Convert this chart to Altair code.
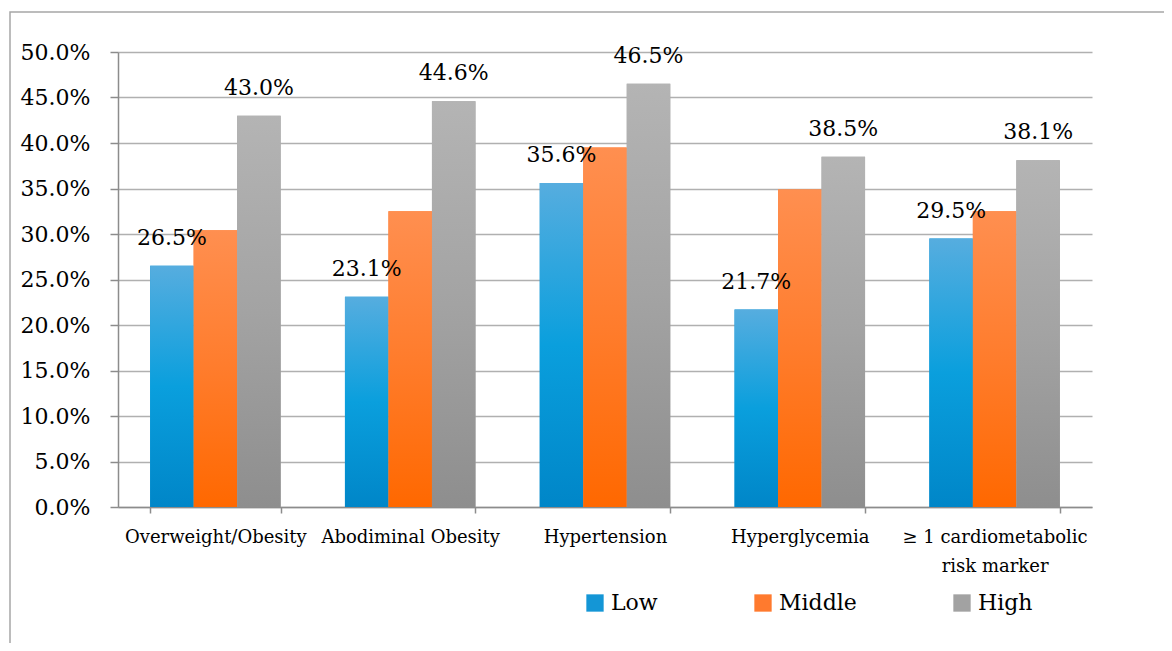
import altair as alt
import pandas as pd

categories = ["Overweight/Obesity", "Abodiminal Obesity", "Hypertension",
              "Hyperglycemia", "≥ 1 cardiometabolic|risk marker"]
series = ["Low", "Middle", "High"]
low = [26.5, 23.1, 35.6, 21.7, 29.5]
middle = [30.4, 32.5, 39.5, 34.9, 32.5]
high = [43.0, 44.6, 46.5, 38.5, 38.1]
y_ticks = [0, 5, 10, 15, 20, 25, 30, 35, 40, 45, 50]

rows = []
for s, vals in zip(series, [low, middle, high]):
    for c, v in zip(categories, vals):
        rows.append({"category": c, "series": s, "pct": v})
df = pd.DataFrame(rows)

FONT = "DejaVu Serif"
GRID = "#b0b0b0"
AX = "#8c8c8c"


def grad(stops):
    return alt.LinearGradient(
        gradient="linear",
        stops=[alt.GradientStop(color=c, offset=o) for o, c in stops],
        x1=0, x2=0, y1=0, y2=1,
    )


fills = {
    "Low": grad([(0, "#56addf"), (0.5, "#0a9fdd"), (1, "#0086c8")]),
    "Middle": grad([(0, "#ff8f50"), (0.5, "#ff7c2c"), (1, "#ff6800")]),
    "High": grad([(0, "#b4b4b4"), (0.5, "#a3a3a3"), (1, "#8e8e8e")]),
}

x = alt.X(
    "category:N", sort=categories, title=None,
    scale=alt.Scale(paddingInner=0.33, paddingOuter=0.165),
    axis=alt.Axis(labelAngle=0, labelExpr="split(datum.label, '|')",
                  tickBand="extent", labelFont=FONT, labelFontSize=18,
                  labelColor="#000000", labelLimit=400, labelPadding=15,
                  labelLineHeight=29, labelOverlap=False,
                  domainColor=AX, domainWidth=1.5, tickColor=AX,
                  tickWidth=1.5, tickSize=6, grid=False),
)
y = alt.Y(
    "pct:Q", title=None, scale=alt.Scale(domain=[0, 50], nice=False),
    axis=alt.Axis(values=y_ticks, labelExpr="format(datum.value, '.1f') + '%'",
                  labelFont=FONT, labelFontSize=22, labelColor="#000000",
                  labelPadding=20, domainColor=AX, domainWidth=1.5,
                  tickColor=AX, tickWidth=1.5, tickSize=8,
                  gridColor=GRID, gridWidth=1.5),
)
xo = alt.XOffset("series:N", sort=series,
                 scale=alt.Scale(domain=series, paddingInner=0, paddingOuter=0))

base = alt.Chart(df).encode(x=x, y=y, xOffset=xo)

legend_bars = base.mark_bar().encode(
    color=alt.Color(
        "series:N", sort=series, title=None,
        scale=alt.Scale(domain=series, range=["#1496d6", "#ff7a2e", "#a2a2a2"]),
        legend=alt.Legend(orient="none", legendX=466, legendY=540,
                          direction="horizontal", symbolType="square",
                          symbolSize=300, symbolStrokeWidth=0,
                          labelFont=FONT, labelFontSize=22,
                          labelColor="#000000", labelOffset=5,
                          columnPadding=94),
    )
)

grad_layers = [
    base.transform_filter(alt.datum.series == s).mark_bar(fill=fills[s])
    for s in series
]

labels = base.transform_filter(
    (alt.datum.series == "Low") | (alt.datum.series == "High")
).transform_calculate(
    lbl="format(datum.pct, '.1f') + '%'"
).mark_text(font=FONT, fontSize=22, color="#000000", baseline="middle",
            dy=-28).encode(text="lbl:N")

frame = alt.Chart(alt.Data(values=[{"a": 1}])).mark_rect(
    filled=False, stroke="#a6a6a6", strokeWidth=1.5
).encode(x=alt.value(-108), x2=alt.value(2000),
         y=alt.value(-40), y2=alt.value(2000))

chart = alt.layer(frame, legend_bars, *grad_layers, labels).properties(
    width=974, height=455,
    autosize=alt.AutoSizeParams(type="none"),
    padding={"left": 110, "top": 44, "right": 72, "bottom": 136},
).configure_view(stroke=None)

chart.save("out.html", embed_options={"renderer": "svg", "actions": False})
